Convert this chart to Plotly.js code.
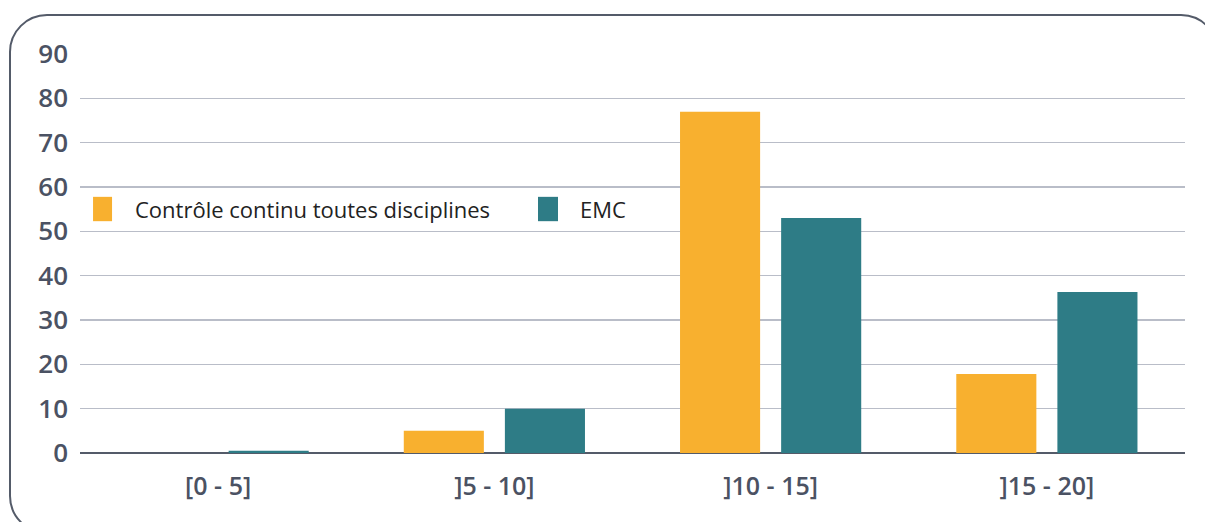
<!DOCTYPE html>
<html>
<head>
<meta charset="utf-8">
<script src="https://cdn.plot.ly/plotly-3.0.1.min.js"></script>
<style>
html,body{margin:0;padding:0;background:#fff;overflow:hidden;width:1205px;height:522px;}
#frame{position:absolute;left:9px;top:14px;width:1210px;height:520px;border:2.5px solid #545b69;border-radius:38px;box-sizing:border-box;}
#chart{position:absolute;left:0;top:0;width:1205px;height:522px;}
</style>
</head>
<body>
<div id="frame"></div>
<div id="chart"></div>
<script>
const categories = ["[0 - 5]", "]5 - 10]", "]10 - 15]", "]15 - 20]"];
const seriesNames = ["Contrôle continu toutes disciplines", "EMC"];
const controleContinu = [0, 5, 77, 17.8];
const emc = [0.5, 10, 53, 36.3];
const yTicks = [0, 10, 20, 30, 40, 50, 60, 70, 80, 90];
const colors = ["#f8b02f", "#2e7c86"];

const traces = [
  {type: "bar", name: seriesNames[0], x: categories, y: controleContinu, marker: {color: colors[0]}, showlegend: false, hoverinfo: "x+y+name"},
  {type: "bar", name: seriesNames[1], x: categories, y: emc, marker: {color: colors[1]}, showlegend: false, hoverinfo: "x+y+name"}
];

const xTickFont = {family: "Open Sans, sans-serif", size: 25, color: "#4b5263", weight: 600};
const yTickFont = {family: "Open Sans, sans-serif", size: 26, color: "#4b5263", weight: 600};
const legFont = {family: "Open Sans, sans-serif", size: 22, color: "#222222"};

const layout = {
  width: 1205, height: 522,
  margin: {l: 80, r: 20, t: 54, b: 69},
  paper_bgcolor: "rgba(0,0,0,0)",
  plot_bgcolor: "rgba(0,0,0,0)",
  barmode: "group",
  bargap: 0.268,
  bargroupgap: 0.208,
  xaxis: {type: "category", tickfont: xTickFont, showgrid: false, showline: false, zeroline: false, ticks: "", ticklabelstandoff: 16},
  yaxis: {range: [0, 90], tickvals: yTicks, ticktext: yTicks.map(String), tickfont: yTickFont,
          showgrid: true, gridcolor: "#b9bdc8", gridwidth: 1.5, zeroline: true, zerolinecolor: "#545b69", zerolinewidth: 2.5,
          showline: false, ticks: "", ticklabelstandoff: 11},
  shapes: [
    {type: "rect", xref: "paper", yref: "paper", x0: 0.0118, x1: 0.029, y0: 0.581, y1: 0.642, fillcolor: colors[0], line: {width: 0}},
    {type: "rect", xref: "paper", yref: "paper", x0: 0.4145, x1: 0.4326, y0: 0.581, y1: 0.642, fillcolor: colors[1], line: {width: 0}}
  ],
  annotations: [
    {xref: "paper", yref: "paper", x: 0.048, y: 0.612, xanchor: "left", yanchor: "middle", text: seriesNames[0], showarrow: false, font: legFont},
    {xref: "paper", yref: "paper", x: 0.4507, y: 0.612, xanchor: "left", yanchor: "middle", text: seriesNames[1], showarrow: false, font: legFont}
  ]
};

Plotly.newPlot("chart", traces, layout, {displayModeBar: false, staticPlot: true});
</script>
</body>
</html>
